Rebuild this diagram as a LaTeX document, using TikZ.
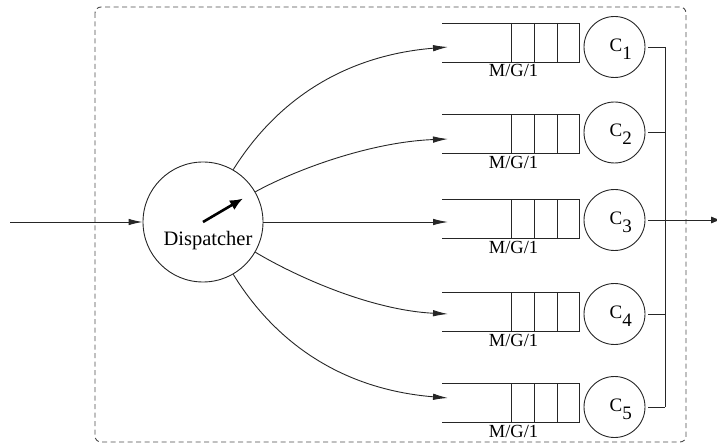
\documentclass[tikz,border=0pt]{standalone}
\usepackage{fontspec}
\setmainfont{Liberation Serif}
\newfontfamily\labelfont{Liberation Serif}
\usetikzlibrary{arrows.meta}
\begin{document}
\begin{tikzpicture}[x=1pt,y=-1pt,
  wire/.style={line width=0.9pt, draw=black!85},
  flow/.style={wire, -{Latex[length=15pt,width=6.5pt]}},
  server/.style={circle, draw=black!85, line width=0.9pt, minimum size=61pt, inner sep=0pt},
  srvname/.style={anchor=base west, inner sep=0pt, font=\labelfont\fontsize{19}{21}\selectfont},
  qlabel/.style={anchor=base, inner sep=0pt, font=\labelfont\fontsize{18.5}{20}\selectfont},
]
\useasboundingbox (0,0) rectangle (717,446);

% system boundary
\draw[line width=0.9pt, draw=black!70, dash pattern=on 5pt off 3.5pt, rounded corners=6pt]
  (95,7) rectangle (686,442);

% dispatcher
\node[circle, draw=black!85, minimum size=120pt, inner sep=0pt, line width=0.9pt] (disp) at (203,222) {};
\node[anchor=base, inner sep=0pt, font=\labelfont\fontsize{20.5}{24}\selectfont] (dlabel) at (208,246) {Dispatcher};
\coordinate (pivot) at (203,222);
\coordinate (pointer) at (243,198.5);
\draw[line width=2.6pt, draw=black, -{Latex[length=13pt,width=11pt]}] (pivot) -- (pointer);

% queues and servers: index / queue centre / server centre / arrival height
\foreach \i/\q/\c/\a in {1/42.5/47/47, 2/134/132.5/139, 3/219/220/222, 4/311.5/314/314, 5/403/407/398} {
  \draw[wire] (442,\q-19.5) -- (579,\q-19.5) -- (579,\q+19.5) -- (442,\q+19.5);
  \foreach \x in {511,534,557} \draw[wire] (\x,\q-19.5) -- (\x,\q+19.5);
  \node[server] (c\i) at (614.5,\c) {};
  \node[srvname] (n\i) at (609.5,\c+4.5) {C\raisebox{-8pt}{\i}};
  \node[qlabel] (m\i) at (513.5,\q+34.5) {M/G/1};
  \coordinate (in\i) at (448,\a);
}

% arrivals and routing
\coordinate (src) at (10,222);
\draw[wire, -{Latex[length=14pt,width=6.5pt]}] (src) -- (disp.west);
\draw[flow] (disp.60) .. controls (280,95) and (350,55) .. (in1);
\draw[flow] (disp.30) .. controls (295,170) and (370,142) .. (in2);
\draw[flow] (disp.east) -- (in3);
\draw[flow] (disp.-30) .. controls (295,276) and (370,310) .. (in4);
\draw[flow] (disp.-60) .. controls (280,350) and (350,390) .. (in5);

% departures
\coordinate (bus) at (665,0);
\coordinate (sink) at (721,0);
\foreach \i in {1,...,5}
  \draw[wire, shorten <=3pt] (c\i.east) -- (c\i.east -| bus);
\draw[wire] (c1.east -| bus) -- (c5.east -| bus);
\draw[wire, -{Latex[length=10pt,width=7pt]}] (c3.east -| bus) -- (c3.east -| sink);
\end{tikzpicture}
\end{document}
